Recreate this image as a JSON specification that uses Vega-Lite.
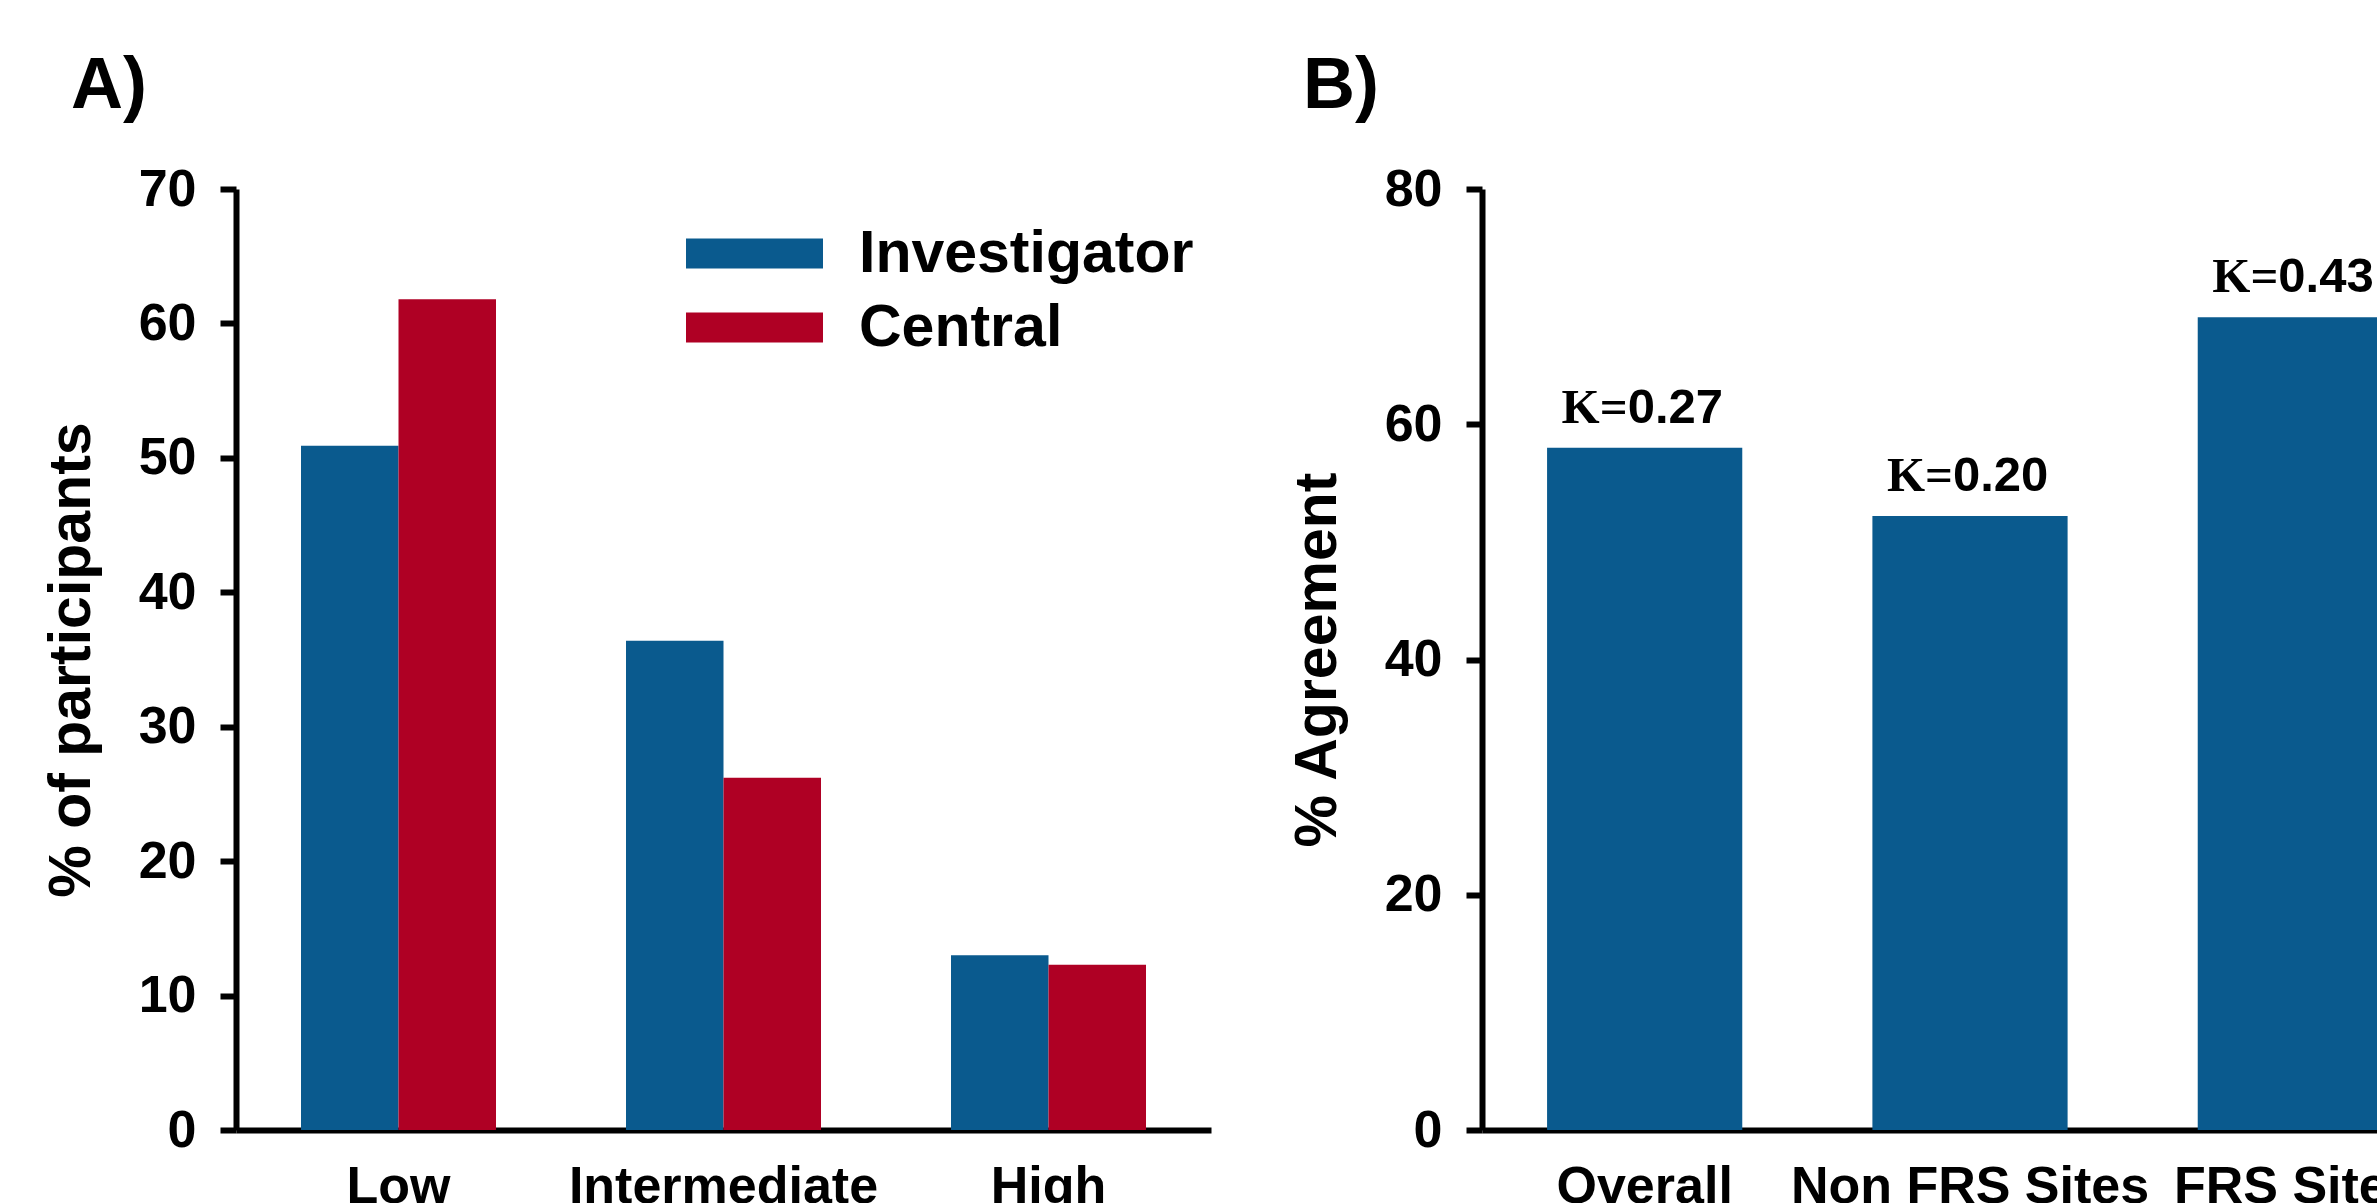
{
  "$schema": "https://vega.github.io/schema/vega-lite/v6.json",
  "background": "white",
  "padding": {"left": 42, "top": 50, "right": 0, "bottom": 0},
  "spacing": 77,
  "config": {
    "view": {"stroke": null},
    "font": "Liberation Sans",
    "axis": {
      "domainColor": "black", "domainWidth": 6, "tickColor": "black", "tickWidth": 6, "tickSize": 16,
      "labelFont": "Liberation Sans", "labelFontSize": 52, "labelFontWeight": "bold", "labelColor": "black",
      "titleFont": "Liberation Sans", "titleFontSize": 59, "titleFontWeight": "bold", "titleColor": "black",
      "grid": false, "labelLimit": 1000, "labelOverlap": false
    },
    "axisX": {"ticks": false, "labelAngle": 0, "labelPadding": 31, "title": null},
    "axisY": {"labelPadding": 24, "titlePadding": 37},
    "title": {"font": "Liberation Sans", "fontSize": 72, "fontWeight": "bold", "color": "black", "anchor": "start", "frame": "group", "baseline": "alphabetic"}
  },
  "datasets": {
    "risk": [
      {"category": "Low", "assessor": "Investigator", "percent": 50.9},
      {"category": "Low", "assessor": "Central", "percent": 61.8},
      {"category": "Intermediate", "assessor": "Investigator", "percent": 36.4},
      {"category": "Intermediate", "assessor": "Central", "percent": 26.2},
      {"category": "High", "assessor": "Investigator", "percent": 13.0},
      {"category": "High", "assessor": "Central", "percent": 12.3}
    ],
    "agreement": [
      {"group": "Overall", "agreement": 58.0, "kappa": "0.27"},
      {"group": "Non FRS Sites", "agreement": 52.2, "kappa": "0.20"},
      {"group": "FRS Sites", "agreement": 69.1, "kappa": "0.43"}
    ]
  },
  "resolve": {"legend": {"color": "independent"}},
  "hconcat": [
    {
      "width": 975,
      "height": 941,
      "title": {"text": "A)", "dx": -165, "offset": 40},
      "data": {"name": "risk"},
      "mark": {"type": "bar"},
      "encoding": {
        "x": {"field": "category", "type": "nominal", "sort": ["Low", "Intermediate", "High"],
              "scale": {"paddingInner": 0.4, "paddingOuter": 0.2}},
        "xOffset": {"field": "assessor", "type": "nominal", "sort": ["Investigator", "Central"]},
        "y": {"field": "percent", "type": "quantitative", "scale": {"domain": [0, 70]},
              "axis": {"values": [0, 10, 20, 30, 40, 50, 60, 70], "title": "% of participants"}},
        "color": {"field": "assessor", "type": "nominal",
                  "scale": {"domain": ["Investigator", "Central"], "range": ["#0A5A8E", "#AF0024"]},
                  "legend": {"title": null, "orient": "none", "legendX": 484, "legendY": 30, "padding": 0,
                             "symbolType": "M-2,-0.438H2V0.438H-2Z", "symbolSize": 4692,
                             "symbolStrokeWidth": 0, "symbolOpacity": 1,
                             "labelFont": "Liberation Sans", "labelFontSize": 59, "labelFontWeight": "bold",
                             "labelColor": "black", "labelOffset": 70, "labelLimit": 1000, "rowPadding": 9}}
      }
    },
    {
      "width": 976,
      "height": 941,
      "title": {"text": "B)", "dx": -179, "offset": 40},
      "data": {"name": "agreement"},
      "encoding": {
        "x": {"field": "group", "type": "nominal", "sort": ["Overall", "Non FRS Sites", "FRS Sites"],
              "scale": {"paddingInner": 0.4, "paddingOuter": 0.2}},
        "y": {"field": "agreement", "type": "quantitative", "scale": {"domain": [0, 80]},
              "axis": {"values": [0, 20, 40, 60, 80], "title": "% Agreement"}}
      },
      "layer": [
        {"mark": {"type": "bar", "color": "#0A5A8E"}},
        {"mark": {"type": "text", "text": "K=", "font": "Liberation Serif", "fontWeight": "bold", "fontSize": 49,
                  "align": "right", "baseline": "alphabetic", "dx": -17, "dy": -25, "color": "black"}},
        {"mark": {"type": "text", "font": "Liberation Sans", "fontWeight": "bold", "fontSize": 49,
                  "align": "left", "baseline": "alphabetic", "dx": -17, "dy": -25, "color": "black"},
         "encoding": {"text": {"field": "kappa", "type": "nominal"}}}
      ]
    }
  ]
}
